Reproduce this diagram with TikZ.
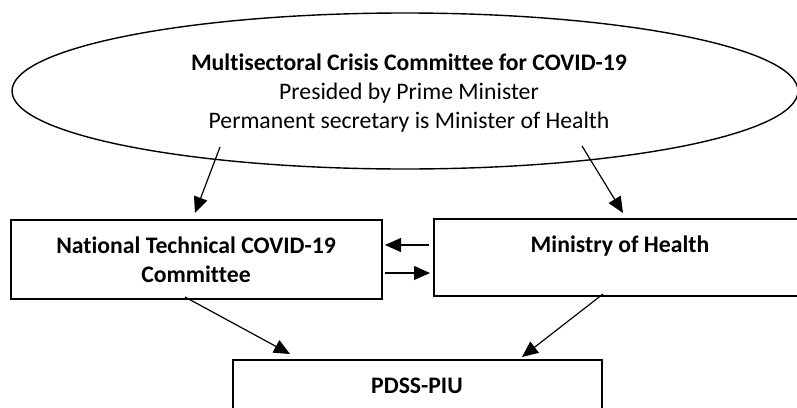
\documentclass[tikz,border=0pt]{standalone}
\usepackage{fontspec}
\setmainfont[Ligatures={NoCommon}]{Carlito}
\usetikzlibrary{shapes.geometric,arrows.meta}
\begin{document}
\begin{tikzpicture}[x=1pt,y=-1pt,
  txt/.style={anchor=base,inner sep=0pt,font=\fontsize{23.7}{29}\selectfont},
  btxt/.style={txt,font=\fontsize{23.7}{29}\selectfont\bfseries},
  boxnode/.style={draw,line width=1.6pt,rectangle,inner sep=0pt},
  arr/.style={line width=1.2pt,-{Triangle[length=16pt,width=14pt]}}]
\useasboundingbox (0,0) rectangle (797,407);
\node[ellipse,draw,line width=1.4pt,minimum width=786pt,minimum height=156pt,inner sep=0pt] (ell) at (405,91) {};
\node[btxt] (t1) at (409,70) {Multisectoral Crisis Committee for COVID-19};
\node[txt] (t2) at (409,99) {Presided by Prime Minister};
\node[txt] (t3) at (409,128) {Permanent secretary is Minister of Health};
% boxes
\node[boxnode,minimum width=371pt,minimum height=79pt] (ntc) at (196.5,259.5) {};
\node[boxnode,minimum width=368pt,minimum height=77pt] (moh) at (618,257.5) {};
\node[boxnode,minimum width=369pt,minimum height=54pt] (pdss) at (417.5,387) {};
\node[btxt] (ntct1) at (196,253) {National Technical COVID-19};
\node[btxt] (ntct2) at (196,282) {Committee};
\node[btxt] (moht) at (620,252) {Ministry of Health};
\node[btxt] (pdsst) at (417,393) {PDSS-PIU};
% arrow endpoints
\coordinate (a1s) at (220,147);
\coordinate (a1e) at (195,213);
\coordinate (a2s) at (582,146);
\coordinate (a2e) at (623,213);
\coordinate (a3s) at (429,245);
\coordinate (a3e) at (385,245);
\coordinate (a4s) at (385,273);
\coordinate (a4e) at (430,273);
\coordinate (a5s) at (185,297);
\coordinate (a5e) at (290,354);
\coordinate (a6s) at (603,294);
\coordinate (a6e) at (522,357);
\draw[arr] (a1s) -- (a1e);
\draw[arr] (a2s) -- (a2e);
\draw[arr] (a3s) -- (a3e);
\draw[arr] (a4s) -- (a4e);
\draw[arr] (a5s) -- (a5e);
\draw[arr] (a6s) -- (a6e);
\end{tikzpicture}
\end{document}
